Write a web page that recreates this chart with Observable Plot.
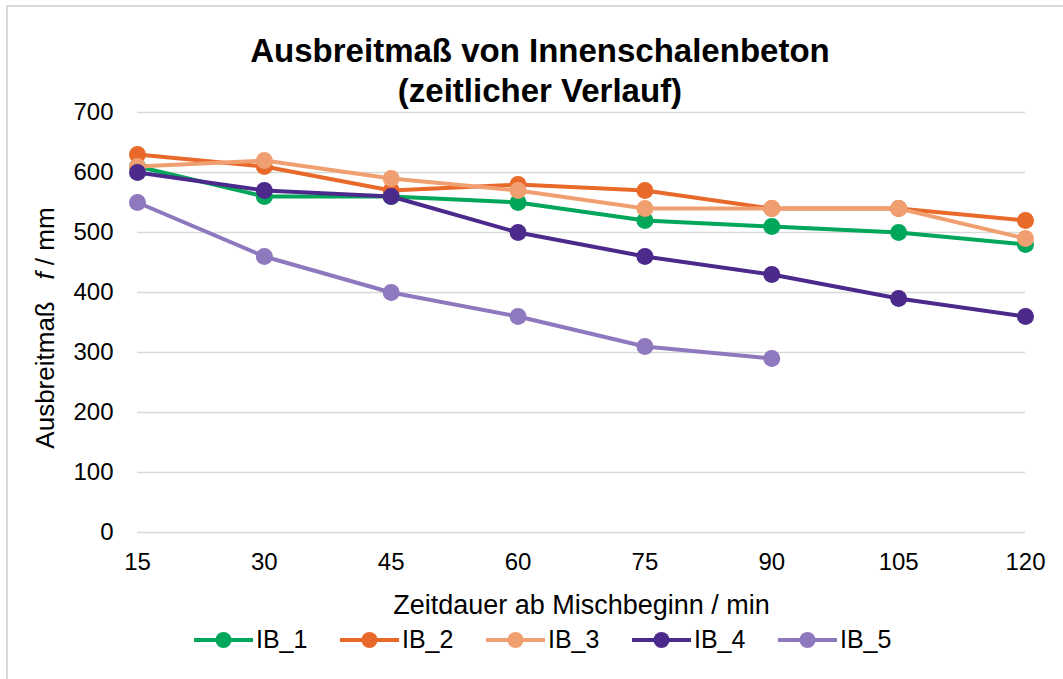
<!DOCTYPE html>
<html>
<head>
<meta charset="utf-8">
<script src="https://cdn.jsdelivr.net/npm/d3@7"></script>
<script src="https://cdn.jsdelivr.net/npm/@observablehq/plot@0.6"></script>
<style>
  html, body { margin: 0; padding: 0; background: #fff; }
  #wrap { position: relative; width: 1063px; height: 679px; overflow: hidden; font-family: "Liberation Sans", Arial, sans-serif; color: #000; }
  #frame { position: absolute; left: 6px; top: 5px; width: 1200px; height: 800px; border-left: 2px solid #d9d9d9; border-top: 2px solid #d9d9d9; }
  #title { position: absolute; left: 40px; width: 1000px; top: 31px; text-align: center; font-weight: bold; font-size: 33px; line-height: 40px; z-index: 2; }
  #chart { position: absolute; left: 0; top: 90px; }
  #ylabel { position: absolute; left: 45px; top: 328px; transform: translate(-50%, -50%) rotate(-90deg); white-space: nowrap; font-size: 26px; }
  #legend { position: absolute; top: 625px; left: 194px; display: flex; align-items: center; font-size: 25px; }
  .item { display: flex; align-items: center; width: 146px; }
  .item svg { margin-right: 3px; }
</style>
</head>
<body>
<div id="wrap">
  <div id="frame"></div>
  <div id="chart"></div>
  <div id="title">Ausbreitmaß von Innenschalenbeton<br>(zeitlicher Verlauf)</div>
  <div id="ylabel">Ausbreitmaß&nbsp;&nbsp;&nbsp;<i>f</i> / mm</div>
  <div id="legend"></div>
</div>
<script>
const times = [15, 30, 45, 60, 75, 90, 105, 120];
const ib1 = [610, 560, 560, 550, 520, 510, 500, 480];
const ib2 = [630, 610, 570, 580, 570, 540, 540, 520];
const ib3 = [610, 620, 590, 570, 540, 540, 540, 490];
const ib4 = [600, 570, 560, 500, 460, 430, 390, 360];
const ib5 = [550, 460, 400, 360, 310, 290];
const seriesNames = ["IB_1", "IB_2", "IB_3", "IB_4", "IB_5"];
const seriesColors = ["#00a65a", "#e8692a", "#f0a070", "#4b2a8c", "#8e78be"];
const yTicks = [0, 100, 200, 300, 400, 500, 600, 700];
const xLabel = "Zeitdauer ab Mischbeginn / min";

const allSeries = [ib1, ib2, ib3, ib4, ib5];
const data = [];
allSeries.forEach((vals, i) => {
  vals.forEach((v, j) => data.push({series: seriesNames[i], t: times[j], v}));
});

const chart = Plot.plot({
  width: 1063,
  height: 530,
  marginLeft: 137,
  marginRight: 38,
  marginTop: 22,
  marginBottom: 88,
  style: {fontFamily: "'Liberation Sans', Arial, sans-serif", fontSize: "24px", color: "#000", background: "transparent"},
  x: {domain: [15, 120]},
  y: {domain: [0, 700]},
  color: {domain: seriesNames, range: seriesColors},
  marks: [
    Plot.gridY(yTicks, {stroke: "#d9d9d9", strokeOpacity: 1, strokeWidth: 1.5}),
    Plot.axisY(yTicks, {tickSize: 0, tickPadding: 24, label: null, fill: "#000"}),
    Plot.axisX(times, {tickSize: 0, tickPadding: 20, label: null, fill: "#000"}),
    Plot.line(data, {x: "t", y: "v", z: "series", stroke: "series", strokeWidth: 4}),
    Plot.dot(data, {x: "t", y: "v", fill: "series", r: 8.5}),
    Plot.text([xLabel], {frameAnchor: "bottom", dy: 73, text: d => d, fontSize: 27, fill: "#000", lineAnchor: "middle"})
  ]
});
document.getElementById("chart").appendChild(chart);

const legend = document.getElementById("legend");
seriesNames.forEach((name, i) => {
  const item = document.createElement("div");
  item.className = "item";
  item.innerHTML = `<svg width="59" height="20"><line x1="0" y1="10" x2="59" y2="10" stroke="${seriesColors[i]}" stroke-width="4"/><circle cx="29.5" cy="10" r="8" fill="${seriesColors[i]}"/></svg><span>${name}</span>`;
  legend.appendChild(item);
});
</script>
</body>
</html>
